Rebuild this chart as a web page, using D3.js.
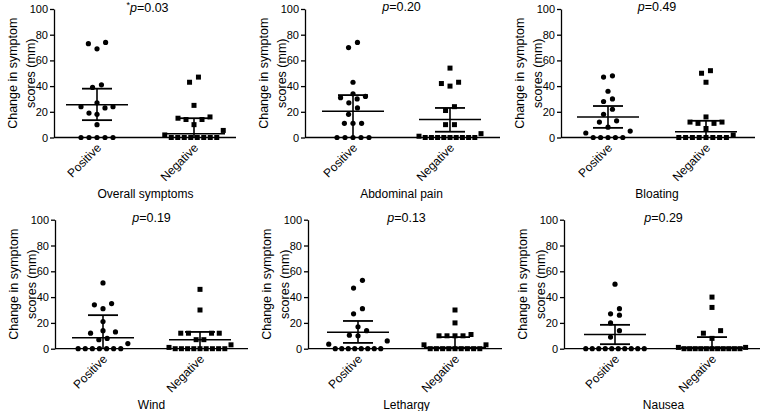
<!DOCTYPE html>
<html><head><meta charset="utf-8">
<script src="https://cdn.jsdelivr.net/npm/d3@7"></script>
<style>
body{margin:0;background:#fff}
svg{display:block;font-family:"Liberation Sans",Arial,Helvetica,sans-serif}
</style>
</head><body>
<svg id="c" width="762" height="411"></svg>
<script>
// ---------- data ----------
const groups = ["Positive", "Negative"];
const symptoms = ["Overall symptoms", "Abdominal pain", "Bloating", "Wind", "Lethargy", "Nausea"];
const pValues = ["0.03", "0.20", "0.49", "0.19", "0.13", "0.29"];
const significant = [true, false, false, false, false, false];
const yTicks = [0, 20, 40, 60, 80, 100];

const positiveScores = [
  [74, 73, 69, 41, 39, 27, 24, 24, 23, 19, 18, 10, 0, 0, 0, 0, 0],
  [74, 70, 43, 34, 32, 31, 30, 27, 23, 18, 11, 11, 11, 0, 0, 0, 0, 0],
  [48, 47, 36, 30, 28, 22, 18, 13, 12, 8, 5, 3.5, 0, 0, 0, 0, 0],
  [51, 35, 34, 31, 21, 14, 13, 12, 8, 7, 4, 0, 0, 0, 0, 0, 0, 0],
  [53, 47, 31, 27, 17, 14, 10.5, 10, 6, 3.5, 0, 0, 0, 0, 0, 0, 0, 0],
  [50, 31, 27, 26, 20, 14, 9, 0, 0, 0, 0, 0, 0, 0, 0, 0, 0]
];
const negativeScores = [
  [47, 43, 25, 16, 15, 14, 14, 10, 5.5, 2, 0, 0, 0, 0, 0, 0, 0, 0],
  [54, 43, 42, 40, 24, 21, 10, 10, 3, 1, 0, 0, 0, 0, 0, 0, 0, 0, 0],
  [52, 50, 43, 16, 12, 12, 11, 11, 7, 2, 0, 0, 0, 0, 0, 0, 0, 0],
  [46, 30, 12, 12, 12, 12, 7, 7, 3, 1, 0, 0, 0, 0, 0, 0, 0, 0, 0],
  [30, 20, 11, 10, 10, 10, 10, 3, 3, 0, 0, 0, 0, 0, 0, 0, 0, 0],
  [40, 32, 14, 12, 8, 1, 1, 0, 0, 0, 0, 0, 0, 0, 0, 0, 0, 0]
];
// [centre line, lower bar, upper bar]
const positiveBars = [[25.5, 13.5, 38], [20.5, 0, 33], [16, 7.5, 24.5], [8.5, 0, 26], [12.7, 4.5, 21.5], [11, 3.5, 18.5]];
const negativeBars = [[3, 0, 15], [14, 4.5, 23], [4.5, 0, 13], [7, 0, 13], [1, 0, 9], [1, 0, 9]];

// ---------- layout ----------
const panels = [
  {axisX: 54,  pos: 97,  neg: 194, end: 236, top: 9,     bottom: 137.5},
  {axisX: 305, pos: 353, neg: 450, end: 500, top: 9,     bottom: 137.5},
  {axisX: 561, pos: 608, neg: 706, end: 755, top: 9,     bottom: 137.5},
  {axisX: 55,  pos: 103, neg: 200, end: 248, top: 219.7, bottom: 348.7},
  {axisX: 308, pos: 358, neg: 455, end: 502, top: 219.7, bottom: 348.7},
  {axisX: 564, pos: 615, neg: 712, end: 760, top: 219.7, bottom: 348.7}
];

const svg = d3.select("#c");

function slot(i, n) {
  if (n % 2 === 1) {
    if (i === 0) return 0;
    const m = Math.ceil(i / 2);
    return (i % 2 === 1 ? -1 : 1) * m;
  }
  const m = Math.floor(i / 2) + 0.5;
  return (i % 2 === 0 ? -1 : 1) * m;
}

function swarm(values, y, cx) {
  const sorted = values.slice().sort((a, b) => a - b);
  const rows = [];
  let cur = null;
  sorted.forEach(v => {
    if (!cur || (y(cur[0]) - y(v)) > 8.5) { cur = [v]; rows.push(cur); }
    else cur.push(v);
  });
  const out = [];
  rows.forEach(r => {
    const n = r.length;
    const sp = Math.max(5.5, 9.5 - 0.3 * n);
    r.forEach((v, i) => out.push({v, x: cx + slot(i, n) * sp}));
  });
  return out;
}

panels.forEach((p, k) => {
  const g = svg.append("g");
  const y = d3.scaleLinear().domain([0, 100]).range([p.bottom, p.top]);
  const x = d3.scalePoint().domain(groups).range([p.pos, p.neg]);
  const midY = (p.top + p.bottom) / 2;
  const midX = (p.pos + p.neg) / 2;

  // y axis
  const ya = g.append("g").attr("transform", `translate(${p.axisX},0)`)
    .call(d3.axisLeft(y).tickValues(yTicks).tickSize(4).tickSizeOuter(0).tickPadding(2));
  ya.selectAll("path,line").attr("stroke", "#000").attr("stroke-width", 1.3);
  ya.selectAll("text").attr("font-size", 11).attr("fill", "#000")
    .attr("font-family", "'Liberation Sans',Arial,sans-serif");

  // x axis line
  g.append("line").attr("x1", p.axisX).attr("x2", p.end)
    .attr("y1", y(0)).attr("y2", y(0)).attr("stroke", "#000").attr("stroke-width", 1.3);

  // category labels
  groups.forEach(gr => {
    g.append("text")
      .attr("transform", `translate(${x(gr) + 2},${y(0) + 8}) rotate(-45)`)
      .attr("text-anchor", "end").attr("dy", "0.35em")
      .attr("font-size", 12).text(gr);
  });

  // y label
  const yl = g.append("text").attr("transform", `translate(${p.axisX - 41},${midY}) rotate(-90)`)
    .attr("text-anchor", "middle").attr("font-size", 12.5);
  yl.append("tspan").attr("x", 0).attr("y", 0).attr("dominant-baseline", "central").text("Change in symptom");
  g.append("text").attr("transform", `translate(${p.axisX - 23},${midY}) rotate(-90)`)
    .attr("text-anchor", "middle").attr("font-size", 12.5).attr("dominant-baseline", "central")
    .text("scores (mm)");

  // x label
  g.append("text").attr("x", midX).attr("y", p.bottom + 60)
    .attr("text-anchor", "middle").attr("font-size", 12).text(symptoms[k]);

  // p value
  const pt = g.append("text").attr("x", midX + (significant[k] ? 2 : 0)).attr("y", p.top + 2)
    .attr("text-anchor", "middle").attr("font-size", 12.5);
  if (significant[k]) pt.append("tspan").attr("font-size", 9).attr("dy", "-0.35em").text("*");
  pt.append("tspan").attr("font-style", "italic").attr("dy", significant[k] ? "0.35em" : null).text("p");
  pt.append("tspan").text("=" + pValues[k]);

  // points
  const posPts = swarm(positiveScores[k], y, x("Positive"));
  const negPts = swarm(negativeScores[k], y, x("Negative"));
  g.selectAll("circle.pt").data(posPts).join("circle").attr("class", "pt")
    .attr("cx", d => d.x).attr("cy", d => y(d.v)).attr("r", 2.6).attr("fill", "#000");
  g.selectAll("rect.pt").data(negPts).join("rect").attr("class", "pt")
    .attr("x", d => d.x - 2.5).attr("y", d => y(d.v) - 2.5)
    .attr("width", 5).attr("height", 5).attr("fill", "#000");

  // bars
  [["Positive", positiveBars[k]], ["Negative", negativeBars[k]]].forEach(([gr, b]) => {
    const cx = x(gr);
    g.append("line").attr("x1", cx - 31).attr("x2", cx + 31).attr("y1", y(b[0])).attr("y2", y(b[0]))
      .attr("stroke", "#000").attr("stroke-width", 1.5);
    g.append("line").attr("x1", cx).attr("x2", cx).attr("y1", y(b[1])).attr("y2", y(b[2]))
      .attr("stroke", "#000").attr("stroke-width", 1.6);
    [b[1], b[2]].forEach(v => {
      if (v > 0) g.append("line").attr("x1", cx - 15).attr("x2", cx + 15).attr("y1", y(v)).attr("y2", y(v))
        .attr("stroke", "#000").attr("stroke-width", 1.8);
    });
  });
});
</script>
</body></html>
